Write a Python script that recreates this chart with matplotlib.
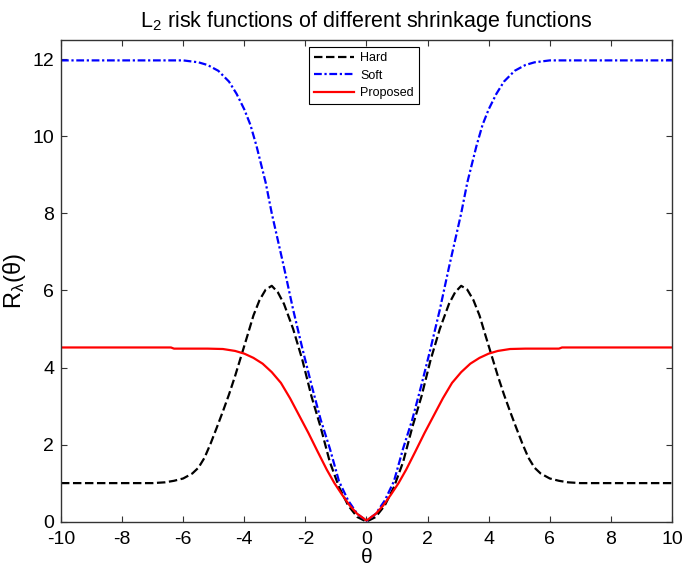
import numpy as np
import matplotlib
matplotlib.use('Agg')
import matplotlib.pyplot as plt

plt.rcParams['font.family'] = ['Liberation Sans', 'DejaVu Sans']
plt.rcParams['mathtext.fontset'] = 'custom'
plt.rcParams['mathtext.rm'] = 'Liberation Sans'
plt.rcParams['mathtext.it'] = 'Liberation Sans'
plt.rcParams['axes.unicode_minus'] = False

# valeurs (moitie theta >= 0, la courbe est symetrique)
theta_hard = [0, 0.3, 0.6, 0.9, 1.2, 1.5, 1.8, 2.1, 2.4, 2.7, 2.9, 3.1, 3.3, 3.5, 3.7,
              3.9, 4.1, 4.3, 4.5, 4.7, 4.9, 5.1, 5.3, 5.5, 5.7, 6.0, 6.3, 6.6, 7.0, 10]
risk_hard = [0.0, 0.12, 0.42, 0.9, 1.55, 2.45, 3.25, 4.2, 5.0, 5.65, 5.95, 6.12, 6.02, 5.75, 5.35,
             4.82, 4.3, 3.78, 3.3, 2.86, 2.44, 2.03, 1.66, 1.4, 1.25, 1.12, 1.06, 1.02, 1.0, 1.0]

theta_soft = [0, 0.3, 0.6, 0.9, 1.2, 1.5, 1.8, 2.1, 2.4, 2.7, 2.9, 3.1, 3.3, 3.6, 3.8,
              4.0, 4.25, 4.5, 4.85, 5.2, 5.5, 6.0, 10]
risk_soft = [0.02, 0.2, 0.55, 1.05, 1.9, 2.65, 3.55, 4.5, 5.5, 6.6, 7.3, 8.0, 8.8, 9.75, 10.3,
             10.7, 11.1, 11.42, 11.7, 11.85, 11.92, 11.97, 11.97]

theta_prop = [0, 0.3, 0.55, 0.8, 1.05, 1.3, 1.6, 1.9, 2.2, 2.5, 2.8, 3.1, 3.4, 3.7, 4.0,
              4.3, 4.7, 5.2, 6.3, 6.4, 10]
risk_prop = [0.03, 0.2, 0.42, 0.7, 1.0, 1.35, 1.82, 2.3, 2.75, 3.2, 3.6, 3.88, 4.1, 4.25, 4.36,
             4.43, 4.48, 4.49, 4.49, 4.52, 4.52]


def mirror(t, r):
    t = np.array(t, dtype=float)
    r = np.array(r, dtype=float)
    return np.concatenate([-t[::-1], t[1:]]), np.concatenate([r[::-1], r[1:]])


fig = plt.figure(figsize=(6.85, 5.67), dpi=100)
ax = fig.add_axes([0.089, 0.080, 0.892, 0.8495])

x, y = mirror(theta_hard, risk_hard)
ax.plot(x, y, color='black', linestyle=(0, (3.8, 1.6)), lw=1.6, label='Hard')
x, y = mirror(theta_soft, risk_soft)
ax.plot(x, y, color='blue', linestyle=(0, (3.5, 1.2, 1, 1.2)), lw=1.6, label='Soft')
x, y = mirror(theta_prop, risk_prop)
ax.plot(x, y, color='red', linestyle='-', lw=1.6, label='Proposed')

ax.set_xlim(-10, 10)
ax.set_ylim(0, 12.5)
ax.set_xticks(np.arange(-10, 11, 2))
ax.set_yticks(np.arange(0, 13, 2))
ax.tick_params(direction='in', length=4, width=0.8, colors='#333333', labelcolor='black',
               labelsize=14, top=True, right=True)
ax.tick_params(axis='x', pad=7)
ax.tick_params(axis='y', pad=5)
for s in ax.spines.values():
    s.set_color('#333333')
    s.set_linewidth(1.0)

ax.set_title(r'L$_2$ risk functions of different shrinkage functions', fontsize=15.5, pad=9)
ax.set_xlabel('θ', fontsize=15, labelpad=0)
ax.set_ylabel(r'R$_{λ}$(θ)', fontsize=17, labelpad=3)

leg = ax.legend(loc='upper left', bbox_to_anchor=(0.406, 0.985), borderaxespad=0,
                fontsize=9, frameon=True, fancybox=False, framealpha=1, edgecolor='black',
                handlelength=3.2, labelspacing=0.45, borderpad=0.4, handletextpad=0.5)
leg.get_frame().set_linewidth(0.8)

fig.savefig('out.png', dpi=100)
